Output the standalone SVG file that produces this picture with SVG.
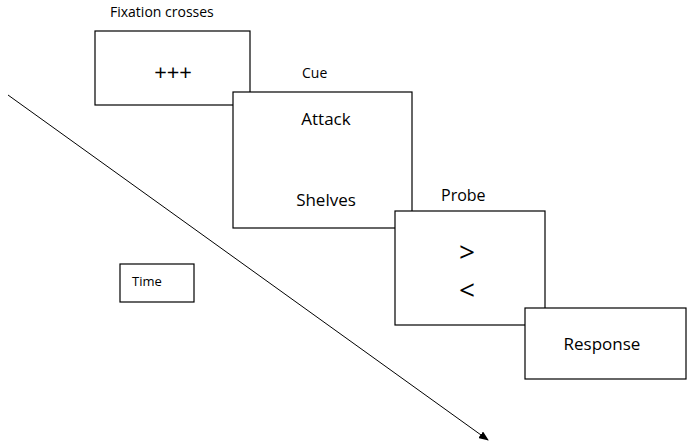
<svg xmlns="http://www.w3.org/2000/svg" width="687" height="447" viewBox="0 0 687 447">
<style>
.b{fill:#fff;stroke:#000;stroke-width:1.2}
text{font-family:"Open Sans","Liberation Sans",sans-serif;fill:#000}
.l{font-size:14px}
.m{font-size:17px;text-anchor:middle;font-weight:500}
</style>
<defs><marker id="a" markerWidth="10" markerHeight="8" refX="9" refY="4" orient="auto" markerUnits="userSpaceOnUse"><path d="M0,0L10,4L0,8z" fill="#000"/></marker></defs>
<rect width="687" height="447" fill="#fff"/>
<g id="connectors"><line x1="8" y1="95" x2="488" y2="440" stroke="#000" stroke-width="1" marker-end="url(#a)"/></g>
<g id="fixation"><text class="l" x="110" y="17">Fixation crosses</text><rect class="b" x="95" y="31" width="155" height="74"/><text class="m" x="173" y="80" style="font-size:22px">+++</text></g>
<g id="cue"><text class="l" x="302" y="78">Cue</text><rect class="b" x="233" y="92" width="179" height="136"/><text class="m" x="326" y="125">Attack</text><text class="m" x="326" y="206">Shelves</text></g>
<g id="probe"><text class="l" x="441" y="201" style="font-size:16px">Probe</text><rect class="b" x="395" y="211" width="150" height="114"/><text class="m" x="467" y="262" style="font-size:28px">&gt;</text><text class="m" x="467" y="300" style="font-size:28px">&lt;</text></g>
<g id="response"><rect class="b" x="525" y="308" width="161" height="71"/><text class="m" x="602" y="350">Response</text></g>
<g id="time"><rect class="b" x="120" y="264" width="74" height="38"/><text class="l" x="132" y="286" style="font-size:13px">Time</text></g>
</svg>
